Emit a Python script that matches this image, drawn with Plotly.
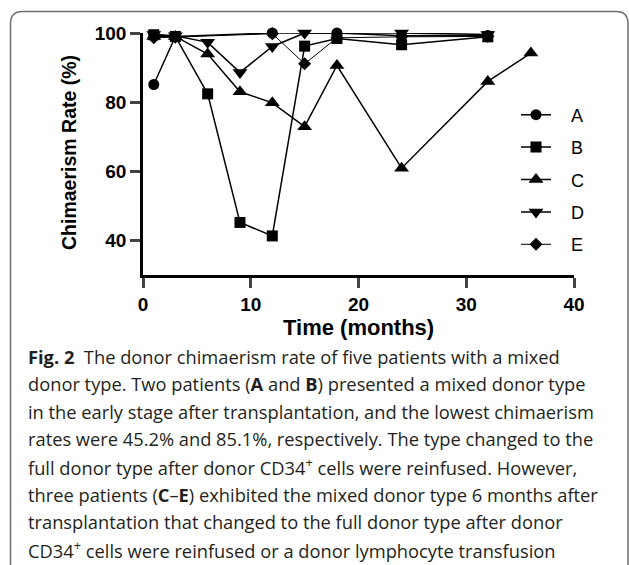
import plotly.graph_objects as go

# Donor chimaerism (%) per patient over time (months after transplantation)
months_a = [1, 3, 12, 18, 24, 32]
rate_a = [85.1, 99.0, 100.0, 100.0, 99.2, 99.3]

months_b = [1, 3, 6, 9, 12, 15, 18, 24, 32]
rate_b = [99.5, 99.0, 82.4, 45.2, 41.3, 96.2, 98.4, 96.6, 98.9]

months_c = [1, 3, 6, 9, 12, 15, 18, 24, 32, 36]
rate_c = [99.0, 99.0, 93.9, 83.0, 79.8, 72.9, 90.6, 60.9, 86.0, 94.2]

months_d = [1, 3, 6, 9, 12, 15, 24, 32]
rate_d = [99.6, 99.2, 97.3, 88.6, 96.1, 100.0, 100.0, 99.6]

months_e = [1, 3, 12, 15, 18, 24, 32]
rate_e = [98.6, 98.8, 99.8, 91.1, 98.6, 98.9, 99.0]

patients = ["A", "B", "C", "D", "E"]
x_ticks = [0, 10, 20, 30, 40]
y_ticks = [40, 60, 80, 100]

caption_lines = [
    "<b>Fig. 2</b>  The donor chimaerism rate of five patients with a mixed",
    "donor type. Two patients (<b>A</b> and <b>B</b>) presented a mixed donor type",
    "in the early stage after transplantation, and the lowest chimaerism",
    "rates were 45.2% and 85.1%, respectively. The type changed to the",
    "full donor type after donor CD34<sup>+</sup> cells were reinfused. However,",
    "three patients (<b>C</b>–<b>E</b>) exhibited the mixed donor type 6 months after",
    "transplantation that changed to the full donor type after donor",
    "CD34<sup>+</sup> cells were reinfused or a donor lymphocyte transfusion",
]

W, H = 629, 565
ML, MR, MT, MB = 143, 55, 33, 290
PW, PH = W - ML - MR, H - MT - MB


def px_x(px):
    return (px - ML) / PW


def px_y(py):
    return (H - MB - py) / PH


series = [
    (months_a, rate_a, "circle", 11, 1.5),
    (months_b, rate_b, "square", 11, 1.5),
    (months_c, rate_c, "triangle-up", 13, 1.5),
    (months_d, rate_d, "triangle-down", 13, 1.5),
    (months_e, rate_e, "diamond", 10, 1.0),
]

fig = go.Figure()
for name, (xs, ys, sym, size, lw) in zip(patients, series):
    fig.add_trace(go.Scatter(
        x=xs, y=ys, name="\u00a0\u00a0\u00a0" + name, legendgroup=name,
        mode="lines+markers",
        line=dict(color="black", width=lw),
        marker=dict(symbol=sym, size=size, color="black"),
        cliponaxis=False,
    ))

tick_font = dict(family="Liberation Sans", size=19, color="black", weight="bold")
fig.update_xaxes(
    range=[0, 40], tickvals=x_ticks, ticks="outside", ticklen=10, tickwidth=2.5,
    showline=True, linewidth=2.5, linecolor="black", showgrid=False, zeroline=False,
    tickfont=tick_font,
)
fig.update_yaxes(
    range=[30, 100], tickvals=y_ticks, ticks="outside", ticklen=10, tickwidth=2.5,
    showline=True, linewidth=2.5, linecolor="black", showgrid=False, zeroline=False,
    tickfont=tick_font,
)

annotations = [
    dict(text="<b>Time (months)</b>", x=px_x(358), y=px_y(327), xref="paper", yref="paper",
         showarrow=False, font=dict(family="Liberation Sans", size=22, color="black"),
         xanchor="center", yanchor="middle"),
    dict(text="<b>Chimaerism Rate (%)</b>", x=px_x(69), y=px_y(153), xref="paper", yref="paper",
         showarrow=False, textangle=-90,
         font=dict(family="Liberation Sans", size=19.5, color="black"),
         xanchor="center", yanchor="middle"),
]
for i, line in enumerate(caption_lines):
    annotations.append(dict(
        text=line, x=px_x(26), y=px_y(356 + 27.6 * i), xref="paper", yref="paper",
        showarrow=False, xanchor="left", yanchor="middle", align="left",
        font=dict(family="Open Sans", size=18.3, color="#231f20"),
    ))

# rounded frame around the figure panel
x0, x1 = px_x(10.5), px_x(628)
y0, y1 = px_y(11.5), px_y(580)
rx, ry = 12 / PW, 12 / PH
frame = (
    f"M {x0 + rx},{y0} L {x1 - rx},{y0} Q {x1},{y0} {x1},{y0 - ry} "
    f"L {x1},{y1 + ry} Q {x1},{y1} {x1 - rx},{y1} "
    f"L {x0 + rx},{y1} Q {x0},{y1} {x0},{y1 + ry} "
    f"L {x0},{y0 - ry} Q {x0},{y0} {x0 + rx},{y0} Z"
)

fig.update_layout(
    width=W, height=H,
    margin=dict(l=ML, r=MR, t=MT, b=MB),
    paper_bgcolor="white", plot_bgcolor="white",
    showlegend=True,
    legend=dict(x=px_x(516), y=px_y(96.5), xanchor="left", yanchor="top",
                font=dict(family="Liberation Sans", size=18, color="black"),
                tracegroupgap=6, itemwidth=30, bgcolor="rgba(0,0,0,0)"),
    annotations=annotations,
    shapes=[dict(type="path", path=frame, xref="paper", yref="paper",
                 line=dict(color="#6f6f6f", width=1.5), layer="below")],
)

fig.write_html("out.html")
